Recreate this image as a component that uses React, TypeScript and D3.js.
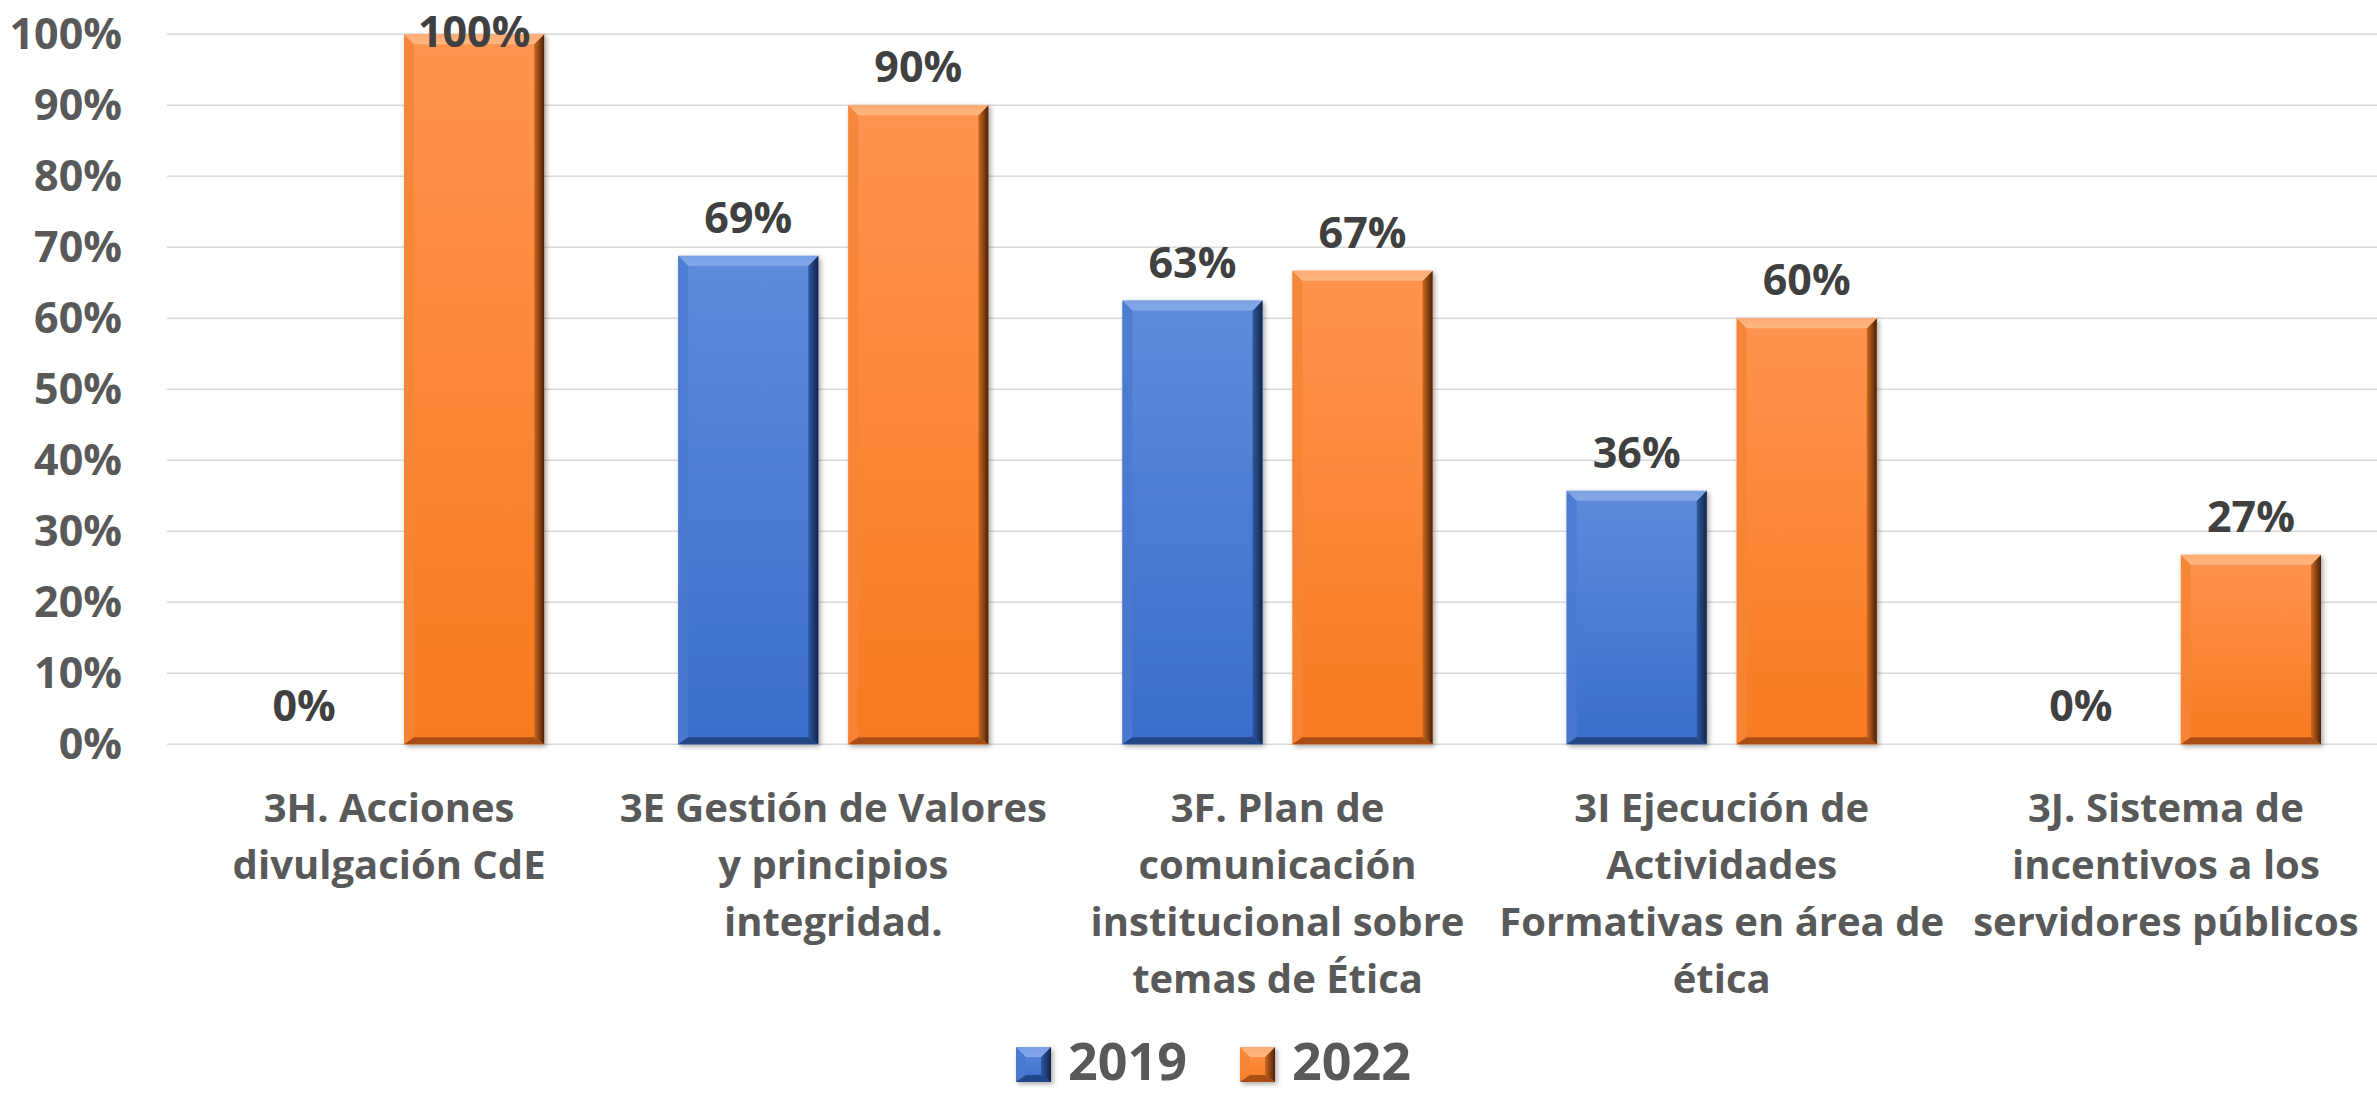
import React from "react";
import * as d3 from "d3";

const categories = [
  "3H. Acciones\ndivulgación CdE",
  "3E Gestión de Valores\ny principios\nintegridad.",
  "3F. Plan de\ncomunicación\ninstitucional sobre\ntemas de Ética",
  "3I Ejecución de\nActividades\nFormativas en área de\nética",
  "3J. Sistema de\nincentivos a los\nservidores públicos",
];
const seriesNames = ["2019", "2022"];
const values2019 = [0, 0.688, 0.625, 0.357, 0];
const values2022 = [1.0, 0.9, 0.667, 0.6, 0.267];
const yTicks = [0, 0.1, 0.2, 0.3, 0.4, 0.5, 0.6, 0.7, 0.8, 0.9, 1.0];

const W = 2377;
const H = 1094;
const FONT = "'Open Sans', 'Noto Sans', sans-serif";

const palette: Record<string, any> = {
  "2019": {
    top: "#5f8bdb", bottom: "#3a6dcb", bevelTop: "#86a9e9", left: "#4a79cf",
    rightA: "#2f59a3", rightB: "#132447", bottomBevel: "#203f7a",
  },
  "2022": {
    top: "#ff9450", bottom: "#f77a20", bevelTop: "#ffb682", left: "#f58535",
    rightA: "#cf681e", rightB: "#4a2206", bottomBevel: "#9a4710",
  },
};

function Bar({ x, y, w, h, s }: { x: number; y: number; w: number; h: number; s: string }) {
  if (h <= 0.5) return null;
  const b = Math.min(10, h / 2);
  const bb = Math.min(7, h / 2);
  return (
    <g filter="url(#shadow)">
      <rect x={x} y={y} width={w} height={h} fill={`url(#main-${s})`} />
      <polygon
        points={`${x},${y} ${x + b},${y + b} ${x + b},${y + h - bb} ${x},${y + h}`}
        fill={palette[s].left}
        opacity={0.8}
      />
      <polygon
        points={`${x + w},${y} ${x + w},${y + h} ${x + w - b},${y + h - bb} ${x + w - b},${y + b}`}
        fill={`url(#right-${s})`}
      />
      <polygon
        points={`${x},${y + h} ${x + w},${y + h} ${x + w - b},${y + h - bb} ${x + b},${y + h - bb}`}
        fill={palette[s].bottomBevel}
        opacity={0.85}
      />
      <polygon
        points={`${x},${y} ${x + w},${y} ${x + w - b},${y + b} ${x + b},${y + b}`}
        fill={`url(#top-${s})`}
      />
    </g>
  );
}

export default function App() {
  const x0 = d3.scaleBand<string>().domain(categories).range([167, 2388]).padding(0);
  const x1 = d3
    .scaleBand<string>()
    .domain(seriesNames)
    .range([0, x0.bandwidth()])
    .paddingInner(0.176)
    .paddingOuter(0.394);
  const y = d3.scaleLinear().domain([0, 1]).range([744.3, 34.3]);

  const seriesValues: Record<string, number[]> = { "2019": values2019, "2022": values2022 };
  const fmt = (v: number) => `${Math.round(v * 100)}%`;

  const legendItems = [
    { s: "2019", x: 1016 },
    { s: "2022", x: 1240 },
  ];

  return (
    <svg
      width={W}
      height={H}
      style={{ position: "absolute", left: 0, top: 0, display: "block", background: "#fff" }}
    >
      <defs>
        <filter id="shadow" x="-20%" y="-20%" width="140%" height="140%">
          <feDropShadow dx="2" dy="2" stdDeviation="2.5" floodColor="#000" floodOpacity="0.35" />
        </filter>
        {seriesNames.map((s) => (
          <React.Fragment key={s}>
            <linearGradient id={`main-${s}`} x1="0" y1="0" x2="0" y2="1">
              <stop offset="0" stopColor={palette[s].top} />
              <stop offset="1" stopColor={palette[s].bottom} />
            </linearGradient>
            <linearGradient id={`right-${s}`} x1="0" y1="0" x2="1" y2="0">
              <stop offset="0" stopColor={palette[s].rightA} />
              <stop offset="1" stopColor={palette[s].rightB} />
            </linearGradient>
            <linearGradient id={`top-${s}`} x1="0" y1="0" x2="0" y2="1">
              <stop offset="0" stopColor={palette[s].bevelTop} stopOpacity="0.7" />
              <stop offset="1" stopColor={palette[s].bevelTop} />
            </linearGradient>
          </React.Fragment>
        ))}
      </defs>

      {/* gridlines */}
      {yTicks.map((t) => (
        <line
          key={`g${t}`}
          x1={167}
          x2={W}
          y1={y(t)}
          y2={y(t)}
          stroke="#d9d9d9"
          strokeWidth={1.6}
        />
      ))}

      {/* y tick labels */}
      {yTicks.map((t) => (
        <text
          key={`t${t}`}
          x={122}
          y={y(t) + 15}
          textAnchor="end"
          fontFamily={FONT}
          fontWeight={700}
          fontSize={43}
          fill="#595959"
        >
          {fmt(t)}
        </text>
      ))}

      {/* bars */}
      {categories.map((c, i) => (
        <g key={`c${i}`}>
          {seriesNames.map((s) => {
            const v = seriesValues[s][i];
            const bx = (x0(c) as number) + (x1(s) as number);
            const by = y(v);
            return (
              <Bar key={s} x={bx} y={by} w={x1.bandwidth()} h={y(0) - by} s={s} />
            );
          })}
        </g>
      ))}

      {/* data labels */}
      {categories.map((c, i) =>
        seriesNames.map((s) => {
          const v = seriesValues[s][i];
          const cx = (x0(c) as number) + (x1(s) as number) + x1.bandwidth() / 2;
          const by = Math.max(y(v) - 23, 47);
          return (
            <text
              key={`l${i}${s}`}
              x={cx}
              y={by}
              textAnchor="middle"
              fontFamily={FONT}
              fontWeight={700}
              fontSize={43}
              fill="#404040"
            >
              {fmt(v)}
            </text>
          );
        })
      )}

      {/* x labels */}
      {categories.map((c, i) => {
        const cx = (x0(c) as number) + x0.bandwidth() / 2;
        return (
          <text
            key={`x${i}`}
            x={cx}
            y={822}
            textAnchor="middle"
            fontFamily={FONT}
            fontWeight={700}
            fontSize={40}
            fill="#595959"
          >
            {c.split("\n").map((ln, j) => (
              <tspan key={j} x={cx} y={822 + j * 57}>
                {ln}
              </tspan>
            ))}
          </text>
        );
      })}

      {/* legend */}
      {legendItems.map((it) => (
        <g key={`lg${it.s}`}>
          <Bar x={it.x} y={1047} w={35} h={35} s={it.s} />
          <text
            x={it.x + 52}
            y={1080}
            fontFamily={FONT}
            fontWeight={700}
            fontSize={52}
            fill="#595959"
          >
            {it.s}
          </text>
        </g>
      ))}
    </svg>
  );
}
